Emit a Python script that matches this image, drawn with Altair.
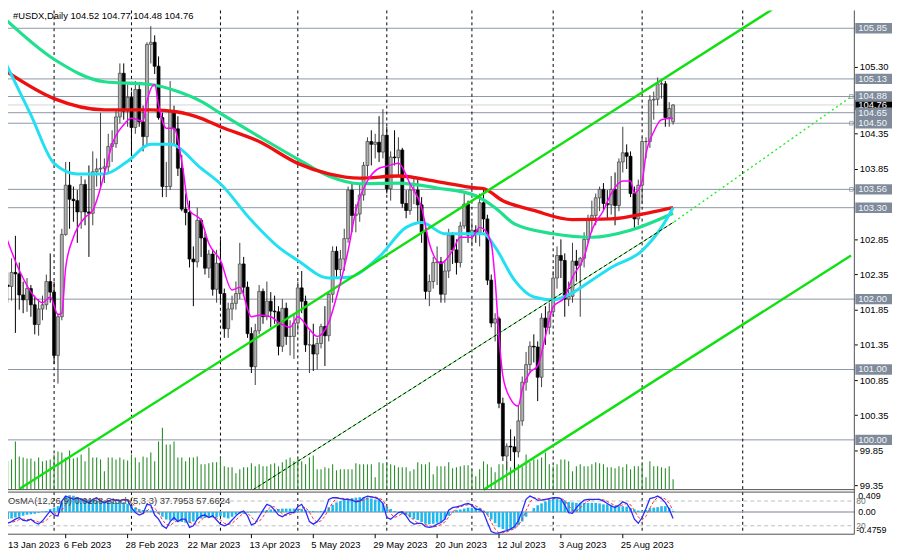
import altair as alt
import pandas as pd

FONT = "Liberation Sans"

# ---------------- daily candles, bar index k = 0 (13 Jan 2023) .. 173 (13 Sep 2023) ----------------
opens = [
    102.25,102.20,102.18,102.38,102.36,102.06,101.99,102.15,101.92,101.64,
    101.86,101.92,102.25,102.10,101.20,101.75,102.92,103.62,103.42,103.40,
    103.24,103.63,103.24,103.22,103.81,103.85,103.86,103.88,104.17,104.21,
    104.59,105.21,104.67,104.87,104.44,104.98,104.52,104.31,105.62,105.65,
    105.31,104.58,103.60,103.60,104.66,104.42,103.86,103.28,103.23,102.57,
    102.53,103.12,102.87,102.44,102.64,102.14,102.51,102.08,101.58,101.86,
    101.94,102.08,102.50,102.17,101.51,101.04,101.55,102.11,101.75,101.97,
    101.83,101.82,101.33,101.87,101.47,101.47,101.66,102.16,101.97,101.35,
    101.35,101.22,101.37,101.61,101.48,102.07,102.68,102.42,102.57,102.86,
    103.55,103.19,103.21,103.48,103.90,104.24,104.20,104.23,104.09,104.33,
    103.57,104.02,104.01,104.12,103.36,103.26,103.55,103.55,103.34,102.95,
    102.11,102.25,102.52,102.53,102.07,102.40,102.91,102.70,102.52,103.04,
    103.35,102.91,102.98,102.94,103.37,103.14,102.27,101.66,101.72,100.52,
    99.77,99.91,99.90,99.83,100.27,100.82,101.07,101.33,101.32,100.89,
    101.73,101.60,101.82,102.30,102.62,102.55,102.00,102.04,102.54,102.48,
    102.58,102.85,103.14,103.19,103.44,103.56,103.36,103.34,103.56,103.33,
    103.95,104.08,104.03,103.50,103.14,103.62,104.24,104.24,104.83,104.84,
    105.06,105.06,104.58,104.52,
]
highs = [
    102.50,102.38,102.58,102.90,102.52,102.25,102.30,102.20,102.05,102.00,
    102.05,102.35,102.65,102.25,101.80,103.00,103.95,103.95,103.60,103.55,
    103.75,103.70,103.90,104.10,104.00,104.65,104.00,104.35,104.40,104.70,
    105.35,105.35,105.05,104.95,105.10,105.05,104.75,105.65,105.88,105.75,
    105.45,104.65,103.95,105.10,104.75,104.60,104.05,103.50,103.40,102.75,
    103.30,103.15,102.95,102.70,102.70,102.70,102.85,102.15,101.95,102.05,
    102.25,102.80,102.60,102.25,101.60,101.65,102.20,102.15,102.25,102.10,
    102.05,101.90,102.00,101.95,101.70,101.80,102.25,102.40,102.05,101.55,
    101.65,101.45,101.65,101.90,102.10,102.75,102.75,102.70,103.00,103.60,
    103.65,103.35,103.65,103.95,104.30,104.40,104.35,104.60,104.70,104.45,
    104.10,104.40,104.30,104.15,103.55,103.65,103.75,103.70,103.45,103.05,
    102.35,102.60,102.75,102.60,102.55,103.00,102.95,102.85,103.10,103.50,
    103.40,103.10,103.05,103.50,103.55,103.20,102.35,101.80,101.75,100.60,
    99.95,100.15,100.05,100.50,100.90,101.25,101.40,101.50,101.40,101.80,
    101.90,101.95,102.40,102.75,102.85,102.65,102.25,102.80,102.70,102.60,
    102.95,103.20,103.40,103.50,103.60,103.65,103.55,103.75,103.80,104.00,
    104.45,104.20,104.10,103.60,103.70,104.30,104.30,104.90,104.95,105.15,
    105.10,105.10,104.80,104.77,
]
lows = [
    101.78,101.95,101.98,101.52,101.85,101.80,101.82,101.75,101.50,101.48,
    101.70,101.85,101.95,101.08,100.80,101.70,102.90,103.00,103.10,102.80,
    103.00,103.05,102.60,103.05,103.60,103.60,103.65,103.80,103.95,104.15,
    104.50,104.55,104.45,104.05,104.35,104.45,104.10,104.20,105.35,105.20,
    104.55,103.45,103.45,103.55,104.20,103.75,103.25,103.05,102.45,101.90,
    102.45,102.60,102.35,102.30,102.05,101.95,101.95,101.45,101.45,101.70,
    101.85,102.00,102.05,101.45,100.95,100.78,101.50,101.65,101.70,101.60,
    101.65,101.20,101.25,101.35,101.20,101.15,101.55,101.80,101.25,100.95,
    100.98,101.00,101.30,101.05,101.40,101.95,102.30,102.25,102.40,102.80,
    102.95,102.95,103.10,103.40,103.75,103.90,104.00,103.95,104.00,103.50,
    103.40,103.90,103.75,103.30,103.15,103.20,103.35,103.10,102.80,102.00,
    101.90,102.15,102.20,101.95,101.95,102.30,102.50,102.35,102.45,103.00,
    102.80,102.75,102.80,102.75,102.95,102.20,101.60,101.40,100.45,99.70,
    99.57,99.70,99.55,99.75,100.20,100.70,100.95,101.10,100.55,100.75,
    101.35,101.50,101.75,102.15,102.30,101.75,101.90,101.95,102.25,101.75,
    102.45,102.80,102.95,103.05,103.25,103.25,103.15,103.20,103.05,103.25,
    103.80,103.85,103.45,103.00,103.05,103.35,104.00,104.15,104.55,104.75,
    104.85,104.45,104.45,104.48,
]
closes = [
    102.20,102.18,102.38,102.36,102.06,101.99,102.15,101.92,101.64,101.86,
    101.92,102.25,102.10,101.20,101.75,102.92,103.62,103.42,103.40,103.24,
    103.63,103.24,103.22,103.81,103.85,103.86,103.88,104.17,104.21,104.59,
    105.21,104.67,104.87,104.44,104.98,104.52,104.31,105.62,105.65,105.31,
    104.58,103.60,103.60,104.66,104.42,103.86,103.28,103.23,102.57,102.53,
    103.12,102.87,102.44,102.64,102.14,102.51,102.08,101.58,101.86,101.94,
    102.08,102.50,102.17,101.51,101.04,101.55,102.11,101.75,101.97,101.83,
    101.82,101.33,101.87,101.47,101.47,101.66,102.16,101.97,101.35,101.35,
    101.22,101.37,101.61,101.48,102.07,102.68,102.42,102.57,102.86,103.55,
    103.19,103.21,103.48,103.90,104.24,104.20,104.23,104.09,104.33,103.57,
    104.02,104.01,104.12,103.36,103.26,103.55,103.55,103.34,102.95,102.11,
    102.25,102.52,102.53,102.07,102.40,102.91,102.70,102.52,103.04,103.35,
    102.91,102.98,102.94,103.37,103.14,102.27,101.66,101.72,100.52,99.77,
    99.91,99.90,99.83,100.27,100.82,101.07,101.33,101.32,100.89,101.73,
    101.60,101.82,102.30,102.62,102.55,102.00,102.04,102.54,102.48,102.58,
    102.85,103.14,103.19,103.44,103.56,103.36,103.34,103.56,103.33,103.95,
    104.08,104.03,103.50,103.14,103.62,104.24,104.24,104.83,104.84,105.06,
    105.06,104.58,104.71,104.76,
]

# ---------------- per-bar indicator readings, k = 1 .. 173 ----------------
volumes = [
    28,30,48,33,32,31,31,28,32,28, 29,30,35,38,37,32,39,31,32,35,
    28,42,32,32,30,18,32,32,30,32, 30,29,35,32,27,33,32,37,28,48,
    62,45,45,48,32,32,28,32,32,33, 25,25,26,27,27,32,23,22,22,16,
    20,22,22,26,23,25,23,23,25,26, 23,27,30,32,28,32,28,25,32,34,
    20,20,22,21,25,19,20,20,20,20, 26,25,25,25,25,12,27,26,27,25,
    24,22,22,22,18,20,27,25,25,27, 15,23,23,23,27,21,22,23,24,24,
    20,13,20,28,25,22,17,25,25,28, 22,27,25,23,35,27,30,30,32,37,
    25,23,25,30,30,28,18,23,25,23, 23,25,27,26,25,22,22,21,23,22,
    25,20,23,23,25,12,28,23,23,22, 21,23,10,
]
osma_vals = [
    -0.15,-0.14,-0.12,-0.10,-0.08,-0.06,-0.05,-0.04,-0.02,0.01,
    0.02,0.06,0.09,0.12,0.22,0.33,0.35,0.34,0.31,0.29,
    0.27,0.26,0.25,0.24,0.23,0.23,0.22,0.21,0.20,0.21,
    0.20,0.17,0.13,0.09,0.06,0.04,0.04,0.03,0.01,-0.04,
    -0.10,-0.16,-0.18,-0.18,-0.19,-0.21,-0.23,-0.23,-0.20,-0.16,
    -0.14,-0.13,-0.12,-0.12,-0.11,-0.09,-0.12,-0.14,-0.10,-0.06,
    -0.04,-0.04,-0.02,-0.02,-0.01,0.00,0.03,0.04,0.05,0.05,
    0.06,0.07,0.07,0.07,0.07,0.07,0.06,0.04,0.02,0.02,
    0.01,0.02,0.04,0.10,0.15,0.20,0.23,0.25,0.27,0.29,
    0.30,0.31,0.31,0.30,0.28,0.26,0.25,0.18,0.12,0.06,
    0.02,0.00,-0.05,-0.07,-0.12,-0.15,-0.17,-0.21,-0.25,-0.26,
    -0.25,-0.23,-0.22,-0.16,-0.08,-0.02,0.04,0.05,0.07,0.09,
    0.09,0.09,0.08,0.03,-0.06,-0.16,-0.24,-0.32,-0.36,-0.38,
    -0.37,-0.35,-0.28,-0.20,-0.10,0.00,0.08,0.14,0.18,0.22,
    0.25,0.27,0.27,0.26,0.24,0.21,0.20,0.19,0.19,0.19,
    0.19,0.19,0.19,0.18,0.16,0.16,0.15,0.13,0.12,0.12,
    0.11,0.08,0.05,0.03,0.02,0.04,0.08,0.09,0.10,0.12,
    0.12,0.09,0.0168,
]
stoch_main = [
    26,30,36,40,33,32,36,28,24,32, 44,56,46,44,80,92,88,84,88,84,
    80,76,84,88,80,76,80,84,82,80, 84,82,64,52,46,50,72,70,46,36,
    20,14,30,40,30,36,36,16,20,36, 44,46,40,44,34,24,20,24,34,44,
    52,56,44,22,26,42,58,72,68,58, 46,42,48,52,52,66,72,56,30,24,
    30,42,56,84,88,88,86,84,84,82, 78,80,88,92,90,88,84,74,40,36,
    44,52,54,44,30,24,26,26,18,16, 18,24,28,36,58,64,66,68,72,74,
    70,60,60,52,28,6,2,2,6,8, 12,18,32,56,84,92,88,82,82,84,
    86,88,88,86,70,52,50,64,74,82, 84,84,84,84,80,74,68,64,70,78,
    74,60,36,26,40,62,86,88,92,86, 76,60,37.7953,
]
stoch_signal = [
    28,28,31,35,36,35,34,32,29,28, 33,44,49,49,57,72,87,88,87,85,
    84,80,80,83,84,81,79,80,82,82, 82,82,77,66,54,49,56,64,63,51,
    34,23,21,28,33,35,34,29,24,24, 33,42,43,43,39,34,26,23,26,34,
    43,51,51,41,31,30,42,57,66,66, 57,49,45,47,51,57,63,65,53,37,
    28,32,43,61,76,87,87,86,85,83, 81,80,82,87,90,90,87,82,66,50,
    40,44,50,50,43,33,27,25,23,20, 17,19,23,29,41,53,63,66,69,71,
    72,68,63,57,47,29,12,3,3,5, 9,13,21,35,57,77,88,87,84,83,
    84,86,87,87,81,69,57,55,63,73, 80,83,84,84,83,79,74,69,67,71,
    74,71,57,41,34,43,63,79,89,89, 85,74,57.6624,
]

# ---------------- moving averages (bar index, price) ----------------
red_k = [0, 13, 26, 38, 45, 51, 56, 66, 76, 84, 92, 102, 112, 122, 124, 129, 137, 147, 157, 167, 173]
red_v = [105.26, 104.85, 104.69, 104.69, 104.66, 104.57, 104.45, 104.24, 103.93, 103.78, 103.72,
         103.75, 103.67, 103.58, 103.57, 103.40, 103.26, 103.13, 103.14, 103.23, 103.30]
green_k = [0, 13, 26, 38, 45, 51, 56, 66, 76, 84, 92, 102, 112, 122, 127, 132, 142, 152, 162, 173]
green_v = [106.00, 105.41, 105.09, 105.05, 104.95, 104.81, 104.64, 104.31, 103.99, 103.75, 103.64,
           103.65, 103.58, 103.47, 103.30, 103.07, 102.93, 102.88, 102.98, 103.22]
cyan_k = [0, 7, 13, 19, 26, 32, 38, 43, 51, 56, 64, 71, 76, 84, 89, 97, 104, 108, 114, 119, 124,
          127, 132, 137, 142, 147, 152, 157, 165, 170, 173]
cyan_v = [105.41, 104.62, 103.93, 103.78, 103.78, 103.96, 104.20, 104.20, 103.86, 103.64, 103.12,
          102.74, 102.55, 102.30, 102.31, 102.60, 103.02, 103.09, 102.93, 102.93, 102.93, 102.74,
          102.27, 102.03, 101.99, 102.09, 102.27, 102.45, 102.69, 103.02, 103.30]
mag_k = [0, 4, 8, 10, 12, 14, 15, 16, 18, 21, 23, 26, 28, 31, 33, 36, 37, 39, 40, 42, 44, 46, 48,
         51, 53, 56, 59, 61, 64, 66, 69, 71, 74, 76, 79, 81, 84, 86, 89, 91, 94, 97, 99, 102, 105,
         108, 110, 113, 116, 118, 121, 123, 124, 126, 127, 128, 129, 131, 133, 134, 136, 138, 140,
         142, 145, 147, 150, 152, 155, 157, 160, 162, 163, 165, 166, 168, 170, 173]
mag_v = [102.98, 102.41, 102.03, 101.95, 102.03, 101.78, 101.80, 102.45, 102.88, 103.16, 103.26,
         103.78, 104.20, 104.48, 104.57, 104.53, 104.81, 105.05, 104.76, 104.43, 104.43, 103.96,
         103.26, 103.12, 102.79, 102.55, 102.13, 102.17, 101.75, 101.77, 101.75, 101.67, 101.60,
         101.75, 101.57, 101.47, 101.67, 102.03, 102.69, 103.26, 103.68, 103.86, 103.89, 103.93,
         103.64, 103.30, 102.79, 102.51, 102.69, 102.88, 102.88, 103.02, 103.00, 102.79, 102.27,
         101.47, 100.91, 100.58, 100.48, 100.72, 100.96, 101.05, 101.47, 101.89, 102.03, 102.31,
         102.60, 102.98, 103.26, 103.50, 103.68, 103.68, 103.51, 103.68, 104.06, 104.38, 104.55,
         104.57]

# ---------------- channel / trend lines (bar index, price end points) ----------------
chan_name = ["upper", "upper", "lower", "lower"]
chan_k = [4, 205, 124, 219]
chan_p = [99.30, 106.34, 99.29, 102.62]
mid_k = [64.4, 173.3]
mid_p = [99.29, 103.10]
dot_k = [173.3, 218.6]
dot_p = [103.10, 104.86]

# ---------------- levels, ticks, labels ----------------
levels = [105.85, 105.13, 104.88, 104.65, 104.50, 103.56, 103.30, 102.00, 101.00, 100.00]
bid = 104.76
marked_levels = [104.88, 104.50, 103.56]
axis_ticks = [99.35, 99.85, 100.35, 100.85, 101.35, 101.85, 102.35, 102.85, 103.85, 104.35, 105.30]
label_k = [16, 32, 48, 64, 80, 96, 112, 128, 144, 160]
label_text = ["6 Feb 2023", "28 Feb 2023", "22 Mar 2023", "13 Apr 2023", "5 May 2023",
              "29 May 2023", "20 Jun 2023", "12 Jul 2023", "3 Aug 2023", "25 Aug 2023"]
first_label = "13 Jan 2023"
grid_k = [13, 33, 56, 76, 99, 121, 142, 165, 191]
title_text = "#USDX,Daily  104.52 104.77 104.48 104.76"
osc_text = "OsMA(12,26,9) 0.0168   Stoch(5,3,3) 37.7953 57.6624"

# ---------------- tables ----------------
candles = pd.DataFrame({"k": list(range(len(closes))), "o": opens, "h": highs, "l": lows, "c": closes})
up = candles[candles["c"] >= candles["o"]]
down = candles[candles["c"] < candles["o"]]
osc = pd.DataFrame({"k": list(range(1, len(volumes) + 1)), "vol": volumes, "osma": osma_vals,
                    "sm": stoch_main, "ss": stoch_signal})

# ---------------- scales (pixel ranges keep the panels in place) ----------------
W, H = 854, 547
xs = alt.Scale(domain=[2.367, 218.57], nice=False, zero=False)
ps = alt.Scale(domain=[99.30, 106.103], range=[483, 0], nice=False, zero=False)
vs = alt.Scale(domain=[0, 62], range=[483, 421], nice=False, zero=False)
oss = alt.Scale(domain=[-0.5, 0.5], range=[530, 482], nice=False, zero=False)
sts = alt.Scale(domain=[0, 100], range=[528.3, 486.7], nice=False, zero=False)
X = alt.X("k:Q", scale=xs, axis=None)


def PY(field):
    return alt.Y(field, scale=ps, axis=None)


price_axis = alt.Axis(orient="right", values=axis_ticks, format=".2f", labelFont=FONT,
                      labelFontSize=9.5, labelColor="#000000", tickColor="#000000", tickSize=3,
                      domain=False, grid=False, labelPadding=2, labelOverlap=False,
                      labelFlush=False)

layers = []

# level lines
layers.append(alt.Chart(pd.DataFrame({"p": levels})).mark_rule(color="#8d97a6", strokeWidth=1)
              .encode(y=PY("p:Q"), x=alt.value(0), x2=alt.value(W)))
layers.append(alt.Chart(pd.DataFrame({"p": [bid]})).mark_rule(color="#d4d4d4", strokeWidth=1)
              .encode(y=PY("p:Q"), x=alt.value(0), x2=alt.value(W)))

# vertical dashed grid
layers.append(alt.Chart(pd.DataFrame({"k": grid_k})).mark_rule(color="#000000", strokeDash=[3, 3], strokeWidth=1)
              .encode(x=X, y=alt.value(0), y2=alt.value(528)))

# volume bars
layers.append(alt.Chart(osc).mark_rule(color="#2a8f2a", strokeWidth=1.1, clip=True)
              .encode(x=X, y=alt.Y("vol:Q", scale=vs, axis=None), y2=alt.datum(0)))

# candles
layers.append(alt.Chart(up).mark_rule(color="#404040", strokeWidth=1, clip=True)
              .encode(x=X, y=alt.Y("l:Q", scale=ps, axis=price_axis, title=""), y2="h:Q"))
layers.append(alt.Chart(down).mark_rule(color="#000000", strokeWidth=1, clip=True)
              .encode(x=X, y=PY("l:Q"), y2="h:Q"))
layers.append(alt.Chart(up).mark_bar(size=3, fill="#b0b0b0", stroke="#404040", strokeWidth=0.7, clip=True)
              .encode(x=X, y=PY("o:Q"), y2="c:Q"))
layers.append(alt.Chart(down).mark_bar(size=3, fill="#000000", stroke="#000000", strokeWidth=0.7, clip=True)
              .encode(x=X, y=PY("o:Q"), y2="c:Q"))


def ma(ks, vals, color, width):
    d = pd.DataFrame({"k": ks, "v": vals})
    return (alt.Chart(d).mark_line(color=color, strokeWidth=width, interpolate="monotone", clip=True)
            .encode(x=X, y=PY("v:Q")))


layers.append(ma(green_k, green_v, "#1fe08c", 3.2))
layers.append(ma(red_k, red_v, "#ee1010", 3.4))
layers.append(ma(cyan_k, cyan_v, "#22e0f2", 3.0))

# channel lines
layers.append(alt.Chart(pd.DataFrame({"n": chan_name, "k": chan_k, "p": chan_p}))
              .mark_line(color="#10e010", strokeWidth=2.4, clip=True)
              .encode(x=X, y=PY("p:Q"), detail="n:N"))
mid = pd.DataFrame({"k": mid_k, "p": mid_p})
layers.append(alt.Chart(mid).mark_line(color="#30d030", strokeWidth=1, clip=True).encode(x=X, y=PY("p:Q")))
layers.append(alt.Chart(mid).mark_line(color="#000000", strokeWidth=1, strokeDash=[3, 3], clip=True)
              .encode(x=X, y=PY("p:Q")))
layers.append(alt.Chart(pd.DataFrame({"k": dot_k, "p": dot_p}))
              .mark_line(color="#22ee22", strokeWidth=1.4, strokeDash=[2, 3], clip=True)
              .encode(x=X, y=PY("p:Q")))

layers.append(ma(mag_k, mag_v, "#ff00ff", 1.5))

# ---------------- oscillator panel ----------------
layers.append(alt.Chart(pd.DataFrame({"z": [0.0]})).mark_rule(color="#a4acb8", strokeWidth=1.5)
              .encode(y=alt.Y("z:Q", scale=oss, axis=None), x=alt.value(0), x2=alt.value(W)))
layers.append(alt.Chart(pd.DataFrame({"lv": [80, 20]})).mark_rule(color="#bdbdbd", strokeWidth=1, strokeDash=[4, 3])
              .encode(y=alt.Y("lv:Q", scale=sts, axis=None), x=alt.value(0), x2=alt.value(W)))
layers.append(alt.Chart(osc).mark_bar(size=2.6, color="#22b8ec", clip=True)
              .encode(x=X, y=alt.Y("osma:Q", scale=oss, axis=None), y2=alt.datum(0)))
layers.append(alt.Chart(osc).mark_line(color="#ff3030", strokeWidth=1, strokeDash=[3, 2], clip=True)
              .encode(x=X, y=alt.Y("ss:Q", scale=sts, axis=None)))
layers.append(alt.Chart(osc).mark_line(color="#2a2aff", strokeWidth=1.3, clip=True)
              .encode(x=X, y=alt.Y("sm:Q", scale=sts, axis=None)))

# ---------------- frame ----------------
frame = pd.DataFrame({"a": [0]})
layers.append(alt.Chart(frame).mark_rule(color="#505050", strokeWidth=1)
              .encode(x=alt.value(0), x2=alt.value(W), y=alt.value(483.5)))
layers.append(alt.Chart(frame).mark_rule(color="#505050", strokeWidth=1)
              .encode(x=alt.value(0), x2=alt.value(W), y=alt.value(486)))
layers.append(alt.Chart(frame).mark_rule(color="#505050", strokeWidth=1)
              .encode(x=alt.value(0), x2=alt.value(W), y=alt.value(528.5)))
layers.append(alt.Chart(frame).mark_rule(color="#505050", strokeWidth=1)
              .encode(x=alt.value(W), y=alt.value(0), y2=alt.value(528.5)))

# markers on some level lines
layers.append(alt.Chart(pd.DataFrame({"p": marked_levels}))
              .mark_point(shape="square", size=14, filled=False, color="#7f8b9b", strokeWidth=1)
              .encode(x=alt.value(W - 3), y=PY("p:Q")))

# right-side price boxes
layers.append(alt.Chart(pd.DataFrame({"p": [bid], "t": ["104.76"]}))
              .mark_tick(orient="horizontal", size=37, thickness=10, color="#000000", opacity=1)
              .encode(x=alt.value(W + 19.5), y=PY("p:Q")))
layers.append(alt.Chart(pd.DataFrame({"p": [bid], "t": ["104.76"]}))
              .mark_text(align="left", baseline="middle", font=FONT, fontSize=9.5, color="#ffffff")
              .encode(x=alt.value(W + 4), y=PY("p:Q"), text="t:N"))
lv_df = pd.DataFrame({"p": levels, "t": [f"{v:.2f}" for v in levels]})
layers.append(alt.Chart(lv_df).mark_tick(orient="horizontal", size=37, thickness=10.5, color="#7f8b9b", opacity=1)
              .encode(x=alt.value(W + 19.5), y=PY("p:Q")))
layers.append(alt.Chart(lv_df).mark_text(align="left", baseline="middle", font=FONT, fontSize=9.5, color="#f2f5f8")
              .encode(x=alt.value(W + 4), y=PY("p:Q"), text="t:N"))

# oscillator scale texts
layers.append(alt.Chart(pd.DataFrame({"v": [0.409], "t": ["0.409"]}))
              .mark_text(align="left", baseline="top", font=FONT, fontSize=9, color="#000000")
              .encode(x=alt.value(W + 4), y=alt.Y("v:Q", scale=oss, axis=None), text="t:N"))
layers.append(alt.Chart(pd.DataFrame({"v": [0.0], "t": ["0.00"]}))
              .mark_text(align="left", baseline="middle", font=FONT, fontSize=9, color="#000000")
              .encode(x=alt.value(W + 4), y=alt.Y("v:Q", scale=oss, axis=None), text="t:N"))
layers.append(alt.Chart(pd.DataFrame({"v": [-0.4759], "t": ["-0.4759"]}))
              .mark_text(align="left", baseline="bottom", font=FONT, fontSize=9, color="#000000")
              .encode(x=alt.value(W + 2), y=alt.Y("v:Q", scale=oss, axis=None), text="t:N"))
layers.append(alt.Chart(pd.DataFrame({"v": [80, 20], "t": ["80", "20"]}))
              .mark_text(align="left", baseline="middle", font=FONT, fontSize=8.5, color="#707070")
              .encode(x=alt.value(W + 2), y=alt.Y("v:Q", scale=sts, axis=None), text="t:N"))

# date axis
lab_df = pd.DataFrame({"k": label_k, "t": label_text})
layers.append(alt.Chart(lab_df).mark_rule(color="#000000", strokeWidth=1)
              .encode(x=X, y=alt.value(528.5), y2=alt.value(532.5)))
layers.append(alt.Chart(lab_df).mark_text(align="left", baseline="middle", dx=-2, font=FONT, fontSize=9.5, color="#000000")
              .encode(x=X, y=alt.value(539), text="t:N"))
layers.append(alt.Chart(pd.DataFrame({"t": [first_label]}))
              .mark_text(align="left", baseline="middle", font=FONT, fontSize=9.5, color="#000000")
              .encode(x=alt.value(0), y=alt.value(539), text="t:N"))

# titles
layers.append(alt.Chart(pd.DataFrame({"t": [title_text]}))
              .mark_text(align="left", baseline="middle", font=FONT, fontSize=9.5, color="#000000")
              .encode(x=alt.value(5), y=alt.value(6), text="t:N"))
layers.append(alt.Chart(pd.DataFrame({"t": [osc_text]}))
              .mark_text(align="left", baseline="middle", font=FONT, fontSize=9.5, color="#404040")
              .encode(x=alt.value(0), y=alt.value(495), text="t:N"))

chart = (alt.layer(*layers)
         .resolve_scale(y="independent")
         .properties(width=W, height=H, autosize=alt.AutoSizeParams(type="none"),
                     padding={"left": 0, "top": 0, "right": 38, "bottom": 0},
                     background="#ffffff")
         .configure_view(stroke=None))

chart.save("out.html", embed_options={"renderer": "svg", "actions": False})
